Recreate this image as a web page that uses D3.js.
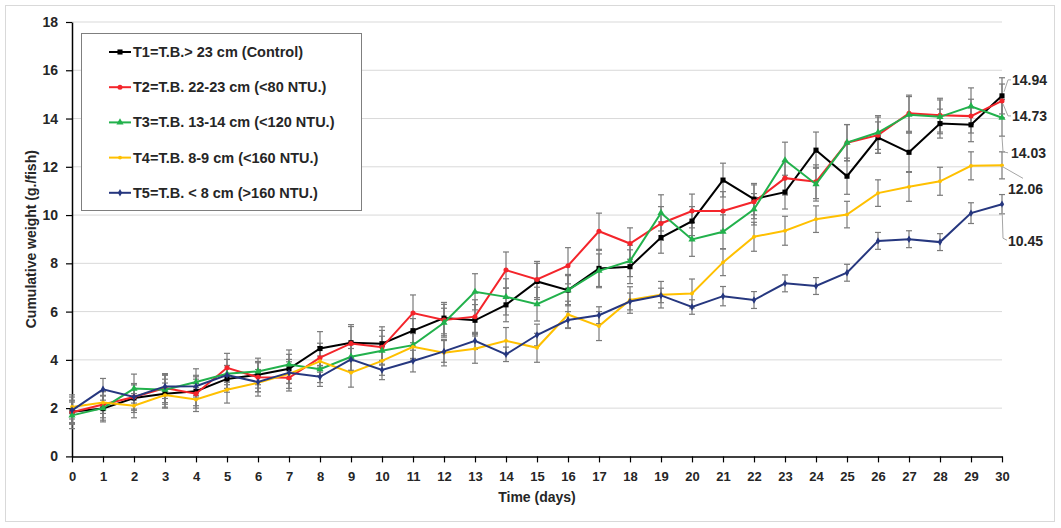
<!DOCTYPE html>
<html>
<head>
<meta charset="utf-8">
<script src="https://cdn.jsdelivr.net/npm/d3@7"></script>
<style>
  body { margin: 0; background: #fff; }
  text { font-family: "Liberation Sans", Arial, sans-serif; font-weight: bold; fill: #262626; }
</style>
</head>
<body>
<svg id="chart" width="1061" height="528"></svg>
<script>
// data
const days = [0,1,2,3,4,5,6,7,8,9,10,11,12,13,14,15,16,17,18,19,20,21,22,23,24,25,26,27,28,29,30];
const yTicks = [0,2,4,6,8,10,12,14,16,18];

const names = [
  "T1=T.B.> 23 cm (Control)",
  "T2=T.B. 22-23 cm (<80 NTU.)",
  "T3=T.B. 13-14 cm (<120 NTU.)",
  "T4=T.B. 8-9 cm (<160 NTU.)",
  "T5=T.B. < 8 cm (>160 NTU.)"
];

const t1 = [1.85,1.98,2.42,2.6,2.7,3.21,3.38,3.63,4.47,4.71,4.67,5.21,5.73,5.64,6.28,7.25,6.89,7.79,7.86,9.07,9.75,11.45,10.66,10.95,12.69,11.61,13.21,12.6,13.79,13.74,14.94];
const t2 = [1.83,2.15,2.46,2.83,2.6,3.67,3.28,3.26,4.09,4.68,4.52,5.94,5.65,5.79,7.72,7.33,7.9,9.33,8.82,9.65,10.17,10.17,10.55,11.53,11.38,13.0,13.31,14.22,14.14,14.1,14.73];
const t3 = [1.7,2.0,2.81,2.76,3.08,3.42,3.52,3.81,3.61,4.13,4.38,4.61,5.54,6.82,6.61,6.31,6.89,7.69,8.1,10.09,8.99,9.31,10.24,12.27,11.28,13.0,13.42,14.16,14.07,14.51,14.03];
const t4 = [2.05,2.23,2.1,2.54,2.36,2.76,3.05,3.42,3.94,3.47,3.96,4.54,4.3,4.46,4.79,4.5,5.88,5.4,6.48,6.7,6.75,8.04,9.1,9.35,9.83,10.02,10.91,11.17,11.4,12.04,12.06];
const t5 = [1.91,2.78,2.46,2.9,2.91,3.37,3.08,3.47,3.3,4.02,3.58,3.95,4.35,4.79,4.23,5.03,5.65,5.85,6.42,6.67,6.19,6.64,6.48,7.17,7.06,7.61,8.93,9.0,8.88,10.08,10.45];

const e1 = [0.45,0.55,0.6,0.6,0.6,0.55,0.55,0.6,0.7,0.75,0.7,0.5,0.65,0.65,0.7,0.75,0.65,0.75,0.7,0.65,0.6,0.7,0.65,0.7,0.75,0.75,0.65,0.8,0.6,0.7,0.75];
const e2 = [0.5,0.55,0.55,0.6,0.6,0.6,0.6,0.55,0.6,0.7,0.7,0.75,0.65,0.7,0.75,0.75,0.75,0.75,0.65,0.7,0.7,0.8,0.7,0.7,0.7,0.75,0.75,0.75,0.7,0.7,0.7];
const e3 = [0.55,0.5,0.6,0.6,0.55,0.6,0.55,0.6,0.55,0.6,0.6,0.55,0.6,0.75,0.75,0.7,0.6,0.7,0.65,0.75,0.7,0.7,0.65,0.75,0.7,0.75,0.7,0.75,0.7,0.76,0.76];
const e4 = [0.5,0.45,0.5,0.5,0.5,0.55,0.55,0.6,0.6,0.6,0.6,0.55,0.55,0.6,0.55,0.6,0.55,0.6,0.55,0.55,0.6,0.55,0.6,0.6,0.55,0.55,0.55,0.6,0.58,0.58,0.56];
const e5 = [0.55,0.45,0.5,0.5,0.45,0.4,0.4,0.45,0.4,0.45,0.4,0.45,0.45,0.35,0.3,0.45,0.35,0.35,0.35,0.3,0.3,0.4,0.35,0.35,0.35,0.35,0.35,0.35,0.35,0.43,0.4];

const colors = ["#000000", "#f4252b", "#22b14c", "#ffc000", "#26377f"];
const markers = [d3.symbolSquare, d3.symbolCircle, d3.symbolTriangle, d3.symbolCircle, d3.symbolDiamond];
const markerSize = [26, 20, 22, 12, 16];

// end labels: offset of label (dx, dy) and leader path relative to the last point
const endLabels = [
  { s: 0, dx: 10, dy: -16, path: [[2,-4],[6,-16],[9,-16]] },
  { s: 1, dx: 10, dy: 15, path: [[1,3],[6,15],[9,15]] },
  { s: 2, dx: 9, dy: 35, path: [[0,19],[1,34],[6,35]] },
  { s: 3, dx: 6, dy: 24, path: [[0,1],[21,13]] },
  { s: 4, dx: 6, dy: 37, path: [[0,2],[1,34],[5,36]] }
];

const values = [t1, t2, t3, t4, t5];
const errs = [e1, e2, e3, e4, e5];

const svg = d3.select("#chart");
svg.append("rect").attr("x", 5.5).attr("y", 5.5).attr("width", 1049).attr("height", 516)
  .attr("fill", "#fff").attr("stroke", "#d9d9d9");

const x = d3.scaleLinear().domain([0, 30]).range([72, 1002]);
const y = d3.scaleLinear().domain([0, 18]).range([456.4, 22]);

// gridlines
svg.append("g").selectAll("line").data(yTicks.filter(d => d > 0)).join("line")
  .attr("x1", x(0)).attr("x2", x(30))
  .attr("y1", d => y(d)).attr("y2", d => y(d))
  .attr("stroke", "#d9d9d9").attr("stroke-width", 1);

// axes
const yAxis = svg.append("g").attr("transform", "translate(" + x(0) + ",0)")
  .call(d3.axisLeft(y).tickValues(yTicks).tickSize(6).tickPadding(8).tickSizeOuter(0));
const xAxis = svg.append("g").attr("transform", "translate(0," + y(0) + ")")
  .call(d3.axisBottom(x).tickValues(days).tickSize(6).tickPadding(9).tickSizeOuter(0));
[yAxis, xAxis].forEach(a => {
  a.select(".domain").attr("stroke", "#000").attr("stroke-width", 1.5);
  a.selectAll(".tick line").attr("stroke", "#000").attr("stroke-width", 1.2);
  a.selectAll(".tick text").style("font-size", "13px").attr("fill", "#262626");
});
yAxis.selectAll(".tick text").style("font-size", "14px");

// error bars
const eb = svg.append("g").attr("stroke", "#7a7a7a").attr("stroke-width", 1.2);
values.forEach((vals, s) => {
  vals.forEach((v, i) => {
    const cx = x(days[i]), lo = y(v - errs[s][i]), hi = y(v + errs[s][i]);
    eb.append("line").attr("x1", cx).attr("x2", cx).attr("y1", lo).attr("y2", hi);
    eb.append("line").attr("x1", cx - 3).attr("x2", cx + 3).attr("y1", lo).attr("y2", lo);
    eb.append("line").attr("x1", cx - 3).attr("x2", cx + 3).attr("y1", hi).attr("y2", hi);
  });
});

// lines and markers
const line = d3.line().x((d, i) => x(days[i])).y(d => y(d));
values.forEach((vals, s) => {
  svg.append("path").datum(vals).attr("d", line)
    .attr("fill", "none").attr("stroke", colors[s]).attr("stroke-width", 2);
  svg.append("g").selectAll("path").data(vals).join("path")
    .attr("transform", (d, i) => "translate(" + x(days[i]) + "," + y(d) + ")")
    .attr("d", d3.symbol().type(markers[s]).size(markerSize[s]))
    .attr("fill", colors[s]);
});

// end labels
endLabels.forEach(l => {
  const vals = values[l.s];
  const last = vals.length - 1;
  const px = x(days[last]), py = y(vals[last]);
  svg.append("path")
    .attr("d", d3.line()(l.path.map(p => [px + p[0], py + p[1]])))
    .attr("fill", "none").attr("stroke", "#a6a6a6").attr("stroke-width", 1);
  svg.append("text").attr("x", px + l.dx).attr("y", py + l.dy).attr("dy", "0.35em")
    .style("font-size", "14px").text(vals[last].toFixed(2));
});

// axis titles
svg.append("text").attr("x", (x(0) + x(30)) / 2).attr("y", 497).attr("dy", "0.35em")
  .attr("text-anchor", "middle").style("font-size", "14px").text("Time (days)");
svg.append("text").attr("transform", "translate(31," + y(9) + ") rotate(-90)")
  .attr("text-anchor", "middle").attr("dy", "0.35em").style("font-size", "14px")
  .text("Cumulative weight (g./fish)");

// legend
const lg = svg.append("g");
lg.append("rect").attr("x", 81.5).attr("y", 33.5).attr("width", 280).attr("height", 177)
  .attr("fill", "#fff").attr("stroke", "#7f7f7f").attr("stroke-width", 1);
names.forEach((n, s) => {
  const ly = 52 + s * 35.2;
  lg.append("line").attr("x1", 109).attr("x2", 131).attr("y1", ly).attr("y2", ly)
    .attr("stroke", colors[s]).attr("stroke-width", 2);
  lg.append("path").attr("transform", "translate(120," + ly + ")")
    .attr("d", d3.symbol().type(markers[s]).size(markerSize[s])).attr("fill", colors[s]);
  lg.append("text").attr("x", 133).attr("y", ly).attr("dy", "0.35em")
    .style("font-size", "14.5px").text(n);
});
</script>
</body>
</html>
